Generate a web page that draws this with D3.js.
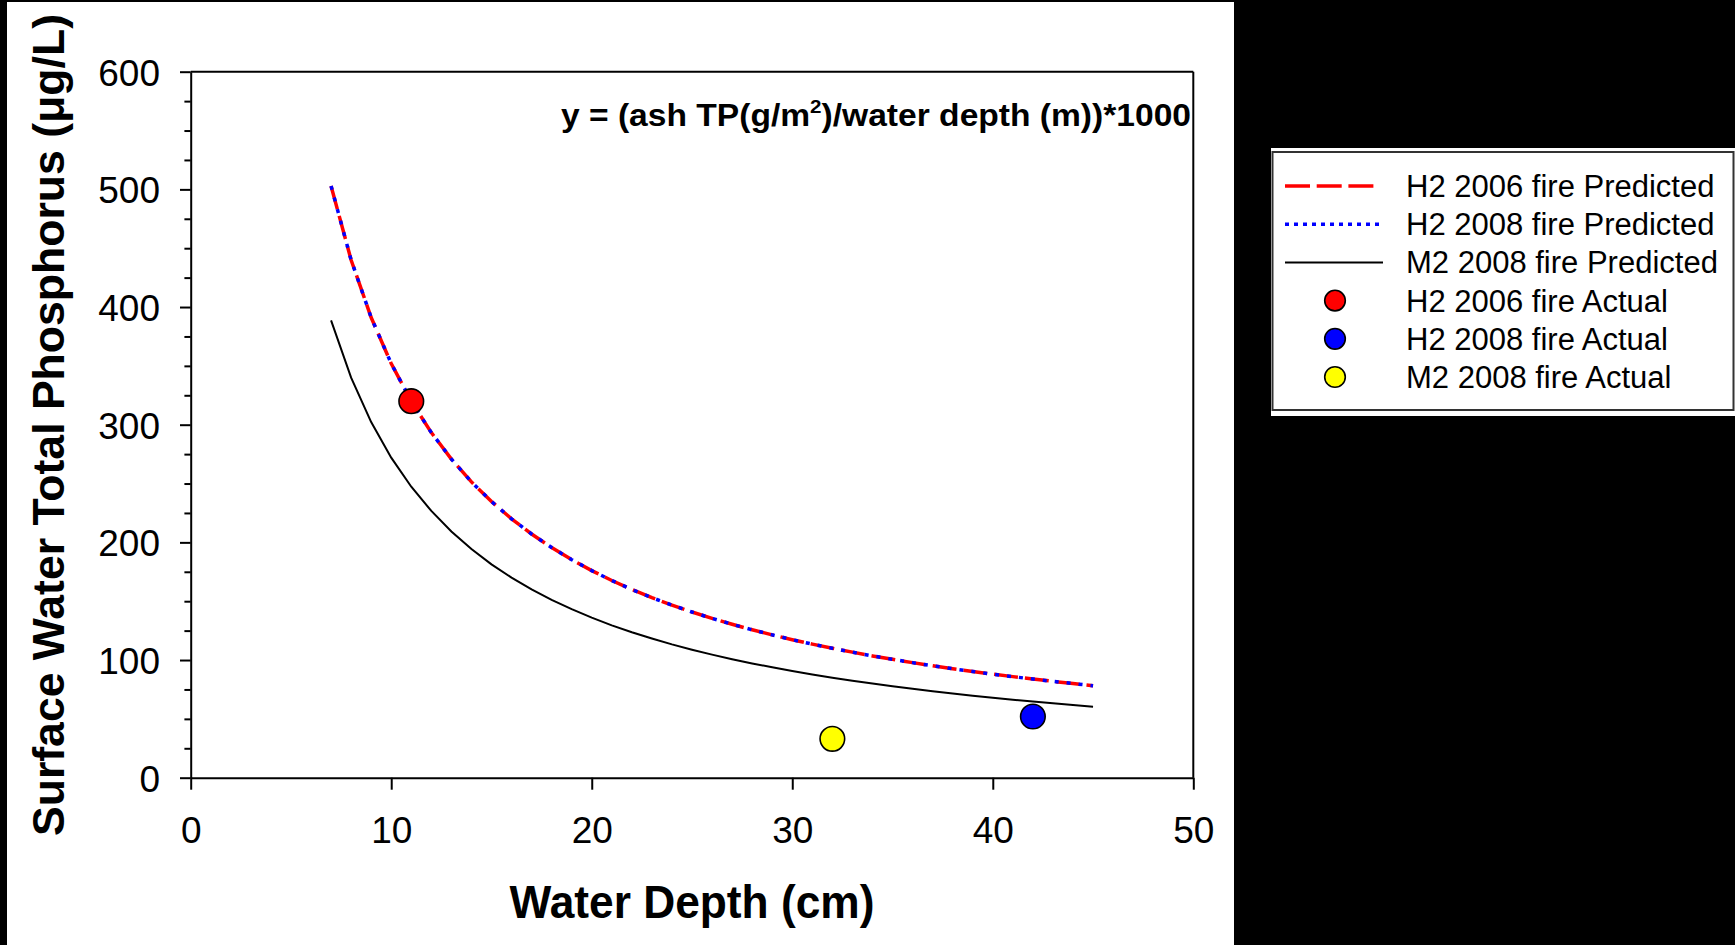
<!DOCTYPE html>
<html>
<head>
<meta charset="utf-8">
<script src="https://cdn.jsdelivr.net/npm/d3@7"></script>
<style>
  html, body { margin: 0; padding: 0; background: #000; }
  svg { display: block; }
  text { font-family: Arial, "Liberation Sans", Helvetica, sans-serif; fill: #000; }
</style>
</head>
<body>
<svg id="chart" width="1735" height="945"></svg>
<script>
// Water depth (cm) at which the predicted TP curves are evaluated
const depthCm = [7, 8, 9, 10, 11, 12, 13, 14, 15, 16, 17, 18, 19, 20, 21, 22, 23, 24, 25, 26,
                 27, 28, 29, 30, 31, 32, 33, 34, 35, 36, 37, 38, 39, 40, 41, 42, 43, 44, 45];

// Predicted surface water TP (µg/L)
const h2Pred2006 = [502.9, 440, 391.1, 352, 320, 293.3, 270.8, 251.4, 234.7, 220, 207.1, 195.6, 185.3, 176,
                    167.6, 160, 153, 146.7, 140.8, 135.4, 130.4, 125.7, 121.4, 117.3, 113.5, 110, 106.7,
                    103.5, 100.6, 97.8, 95.1, 92.6, 90.3, 88, 85.9, 83.8, 81.9, 80, 78.2];
const h2Pred2008 = [502.9, 440, 391.1, 352, 320, 293.3, 270.8, 251.4, 234.7, 220, 207.1, 195.6, 185.3, 176,
                    167.6, 160, 153, 146.7, 140.8, 135.4, 130.4, 125.7, 121.4, 117.3, 113.5, 110, 106.7,
                    103.5, 100.6, 97.8, 95.1, 92.6, 90.3, 88, 85.9, 83.8, 81.9, 80, 78.2];
const m2Pred2008 = [388.6, 340, 302.2, 272, 247.3, 226.7, 209.2, 194.3, 181.3, 170, 160, 151.1, 143.2, 136,
                    129.5, 123.6, 118.3, 113.3, 108.8, 104.6, 100.7, 97.1, 93.8, 90.7, 87.7, 85, 82.4,
                    80, 77.7, 75.6, 73.5, 71.6, 69.7, 68, 66.3, 64.8, 63.3, 61.8, 60.4];

// Measured values
const actualNames = ["H2 2006 fire Actual", "H2 2008 fire Actual", "M2 2008 fire Actual"];
const actualDepth = [11, 42, 32];
const actualTP = [320, 52, 33];
const actualColors = ["#ff0000", "#0000ff", "#ffff00"];

// Axis ticks
const xTickValues = [0, 10, 20, 30, 40, 50];
const yTickValues = [0, 100, 200, 300, 400, 500, 600];
const yMinorValues = [25, 50, 75, 125, 150, 175, 225, 250, 275, 325, 350, 375, 425, 450, 475, 525, 550, 575];

const predictedNames = ["H2 2006 fire Predicted", "H2 2008 fire Predicted", "M2 2008 fire Predicted"];

const svg = d3.select("#chart");

// white page area on black background
svg.append("rect").attr("x", 0).attr("y", 0).attr("width", 1735).attr("height", 945).attr("fill", "#000");
svg.append("rect").attr("x", 7).attr("y", 2).attr("width", 1227).attr("height", 943).attr("fill", "#fff");

const x = d3.scaleLinear().domain([0, 50]).range([190.7, 1193.3]);
const y = d3.scaleLinear().domain([0, 600]).range([777.7, 71.7]);

// plot frame (top and right)
svg.append("line").attr("x1", x(0)).attr("x2", x(50)).attr("y1", y(600)).attr("y2", y(600))
  .attr("stroke", "#000").attr("stroke-width", 2);
svg.append("line").attr("x1", x(50)).attr("x2", x(50)).attr("y1", y(600)).attr("y2", y(0))
  .attr("stroke", "#000").attr("stroke-width", 2);

// x axis
const xAxis = svg.append("g").attr("transform", `translate(0,${y(0)})`)
  .call(d3.axisBottom(x).tickValues(xTickValues).tickSizeInner(12).tickSizeOuter(0).tickPadding(0).tickFormat(d3.format("d")));
xAxis.select(".domain").attr("stroke-width", 2);
xAxis.selectAll(".tick line").attr("stroke-width", 2);
xAxis.selectAll(".tick text").attr("y", 65).attr("dy", null)
  .style("font-size", "37px").attr("fill", "#000");

// y axis
const yAxis = svg.append("g").attr("transform", `translate(${x(0)},0)`)
  .call(d3.axisLeft(y).tickValues(yTickValues).tickSizeInner(10.7).tickSizeOuter(0).tickPadding(20).tickFormat(d3.format("d")));
yAxis.select(".domain").attr("stroke-width", 2);
yAxis.selectAll(".tick line").attr("stroke-width", 2);
yAxis.selectAll(".tick text").attr("dy", "0.36em").style("font-size", "37px").attr("fill", "#000");

const yMinor = svg.append("g").attr("transform", `translate(${x(0)},0)`)
  .call(d3.axisLeft(y).tickValues(yMinorValues).tickSizeInner(6.3).tickSizeOuter(0).tickFormat(""));
yMinor.select(".domain").remove();
yMinor.selectAll(".tick line").attr("stroke-width", 2);

// axis titles
svg.append("text")
  .attr("x", (x(0) + x(50)) / 2).attr("y", 918)
  .attr("text-anchor", "middle")
  .attr("textLength", 365).attr("lengthAdjust", "spacingAndGlyphs")
  .style("font-size", "46px").style("font-weight", "bold")
  .text("Water Depth (cm)");

svg.append("text")
  .attr("transform", "translate(64,425) rotate(-90)")
  .attr("text-anchor", "middle")
  .attr("textLength", 822).attr("lengthAdjust", "spacingAndGlyphs")
  .style("font-size", "45px").style("font-weight", "bold")
  .text("Surface Water Total Phosphorus (\u03bcg/L)");

// equation
const eq = svg.append("text")
  .attr("x", 561).attr("y", 126)
  .attr("textLength", 630).attr("lengthAdjust", "spacingAndGlyphs")
  .style("font-size", "31px").style("font-weight", "bold");
eq.append("tspan").text("y = (ash TP(g/m");
eq.append("tspan").attr("dy", -13).style("font-size", "19px").text("2");
eq.append("tspan").attr("dy", 13).text(")/water depth (m))*1000");

// predicted curves
const line = (vals) => d3.line().x((d, i) => x(depthCm[i])).y(d => y(d))(vals);

svg.append("path").attr("d", line(h2Pred2006)).attr("fill", "none")
  .attr("stroke", "#ff0000").attr("stroke-width", 3.5).attr("stroke-dasharray", "24,7");
svg.append("path").attr("d", line(h2Pred2008)).attr("fill", "none")
  .attr("stroke", "#0000ff").attr("stroke-width", 3.5).attr("stroke-dasharray", "4,8");
svg.append("path").attr("d", line(m2Pred2008)).attr("fill", "none")
  .attr("stroke", "#000").attr("stroke-width", 2);

// measured points
svg.selectAll("circle.actual").data(actualTP).join("circle")
  .attr("class", "actual")
  .attr("cx", (d, i) => x(actualDepth[i]))
  .attr("cy", d => y(d))
  .attr("r", 12.3)
  .attr("fill", (d, i) => actualColors[i])
  .attr("stroke", "#000").attr("stroke-width", 1.6);

// legend
svg.append("rect").attr("x", 1271).attr("y", 148).attr("width", 464).attr("height", 268).attr("fill", "#fff");
svg.append("rect").attr("x", 1272.5).attr("y", 152).attr("width", 461).attr("height", 258)
  .attr("fill", "#fff").attr("stroke", "#333").attr("stroke-width", 2);

const rowY = (i) => 186 + i * 38.2;
const lineStyles = [
  { stroke: "#ff0000", width: 3.5, dash: "25,6.7", x2: 1373.5 },
  { stroke: "#0000ff", width: 3.5, dash: "4,5", x2: 1384 },
  { stroke: "#000", width: 2, dash: null, x2: 1383 }
];
predictedNames.forEach((name, i) => {
  const s = lineStyles[i];
  svg.append("line").attr("x1", 1285).attr("x2", s.x2).attr("y1", rowY(i)).attr("y2", rowY(i))
    .attr("stroke", s.stroke).attr("stroke-width", s.width).attr("stroke-dasharray", s.dash);
  svg.append("text").attr("x", 1406).attr("y", rowY(i) + 11)
    .style("font-size", "31px").text(name);
});
actualNames.forEach((name, i) => {
  const r = i + 3;
  svg.append("circle").attr("cx", 1335).attr("cy", rowY(r)).attr("r", 10.3)
    .attr("fill", actualColors[i]).attr("stroke", "#000").attr("stroke-width", 1.6);
  svg.append("text").attr("x", 1406).attr("y", rowY(r) + 11)
    .style("font-size", "31px").text(name);
});
</script>
</body>
</html>
